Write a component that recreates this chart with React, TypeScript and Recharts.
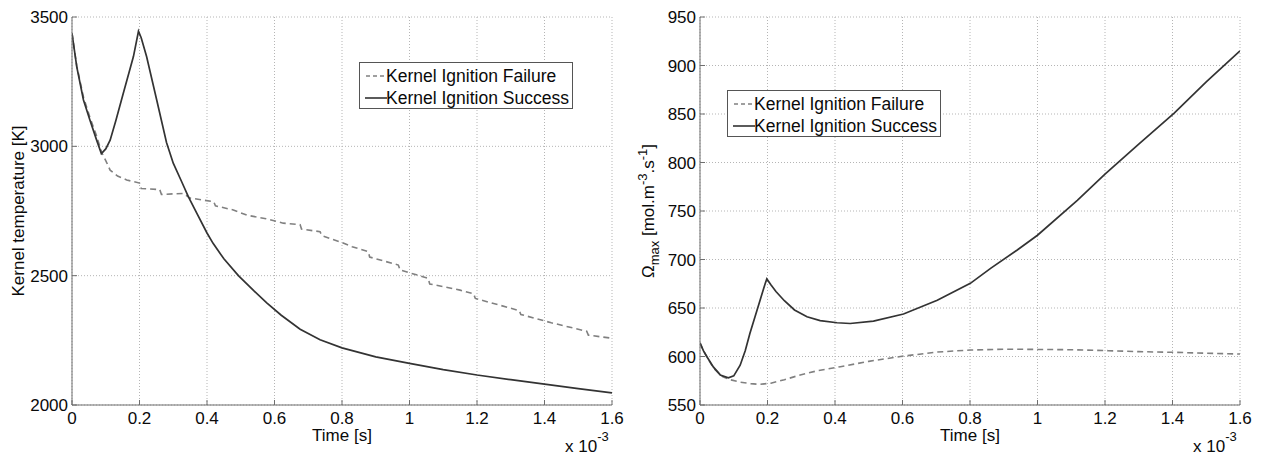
import React from 'react';
import { LineChart, Line, XAxis, YAxis, CartesianGrid } from 'recharts';

// ---- Axis ticks ----
const timeTicks = [0, 0.2, 0.4, 0.6, 0.8, 1.0, 1.2, 1.4, 1.6];
const timeTickLabels = ['0', '0.2', '0.4', '0.6', '0.8', '1', '1.2', '1.4', '1.6'];
const tempTicks = [2000, 2500, 3000, 3500];
const omegaTicks = [550, 600, 650, 700, 750, 800, 850, 900, 950];

// ---- Left panel: kernel temperature [K] vs time [x1e-3 s] ----
const tempFailureTime = [0, 0.014, 0.034, 0.053, 0.073, 0.088, 0.1, 0.113, 0.135, 0.162, 0.2, 0.205, 0.26, 0.265, 0.33, 0.35, 0.42, 0.425, 0.478, 0.518, 0.575, 0.626, 0.676, 0.68, 0.735, 0.74, 0.8, 0.83, 0.878, 0.882, 0.967, 0.972, 1.055, 1.06, 1.15, 1.19, 1.195, 1.325, 1.33, 1.42, 1.525, 1.53, 1.6];
const tempFailureValue = [3437, 3312, 3190, 3112, 3040, 2976, 2945, 2908, 2885, 2870, 2858, 2837, 2833, 2814, 2818, 2800, 2786, 2770, 2754, 2734, 2720, 2703, 2697, 2680, 2670, 2655, 2628, 2612, 2593, 2572, 2541, 2522, 2490, 2468, 2444, 2430, 2412, 2365, 2350, 2318, 2285, 2270, 2258];

const tempSuccessTime = [0, 0.014, 0.034, 0.053, 0.073, 0.087, 0.1, 0.113, 0.13, 0.152, 0.17, 0.182, 0.197, 0.205, 0.221, 0.251, 0.28, 0.3, 0.325, 0.345, 0.37, 0.4, 0.418, 0.45, 0.493, 0.54, 0.577, 0.62, 0.676, 0.735, 0.8, 0.9, 1.0, 1.1, 1.2, 1.3, 1.4, 1.5, 1.6];
const tempSuccessValue = [3437, 3308, 3179, 3102, 3024, 2972, 2990, 3024, 3100, 3205, 3290, 3347, 3445, 3420, 3347, 3179, 3015, 2935, 2863, 2805, 2741, 2665, 2625, 2565, 2500, 2440, 2395, 2347, 2293, 2252, 2221, 2186, 2161, 2137, 2116, 2098, 2081, 2063, 2047];

// ---- Right panel: Omega_max [mol.m-3.s-1] vs time ----
const omegaFailureTime = [0, 0.01, 0.02, 0.04, 0.068, 0.09, 0.12, 0.15, 0.178, 0.21, 0.25, 0.297, 0.35, 0.416, 0.5, 0.594, 0.7, 0.8, 0.9, 0.96, 1.1, 1.21, 1.3, 1.405, 1.5, 1.6];
const omegaFailureValue = [614, 606, 600, 588, 579, 576, 573.5, 572, 571.3, 572.5, 576, 581, 585.5, 589.5, 595, 600, 604.5, 606.7, 607.5, 607.4, 607, 606, 605, 604.3, 603.4, 602.5];

const omegaSuccessTime = [0, 0.01, 0.02, 0.04, 0.06, 0.084, 0.1, 0.119, 0.134, 0.148, 0.163, 0.178, 0.193, 0.198, 0.21, 0.225, 0.25, 0.28, 0.317, 0.356, 0.406, 0.445, 0.514, 0.603, 0.703, 0.801, 0.861, 0.94, 1.0, 1.118, 1.2, 1.3, 1.405, 1.5, 1.6];
const omegaSuccessValue = [614, 606, 600, 589, 581, 578, 580, 591, 606, 624, 641, 658, 675, 680, 674, 667, 657.5, 648, 641, 637, 634.8, 634, 636.5, 643.8, 658, 675.4, 690.9, 709.8, 725, 761, 788, 819, 851, 883, 915];

const legendLabels = ['Kernel Ignition Failure', 'Kernel Ignition Success'];

const zip = (t: number[], v: number[]) => t.map((x, i) => ({ t: x, v: v[i] }));

const FONT = '"Liberation Sans", Arial, Helvetica, sans-serif';
const TEXT = '#0a0a0a';
const AXIS = '#6e6e6e';
const SOLID = '#333333';
const DASHED = '#808080';

const fmtTime = (v: number) => {
  const i = timeTicks.findIndex((x) => Math.abs(x - v) < 1e-9);
  return i >= 0 ? timeTickLabels[i] : String(v);
};

const XLabel = (props: any) => {
  const vb = props.viewBox || {};
  const cx = vb.x + vb.width / 2;
  const right = vb.x + vb.width;
  return (
    <g>
      <text x={cx} y={vb.y + 36} textAnchor="middle" fontSize={17} fontFamily={FONT} fill={TEXT}>
        Time [s]
      </text>
      <text x={right - 47} y={vb.y + 47} fontSize={17} fontFamily={FONT} fill={TEXT}>
        x 10<tspan dy={-11} fontSize={13}>-3</tspan>
      </text>
    </g>
  );
};

const TempYLabel = () => (
  <text x={24} y={211} transform="rotate(-90 24 211)" textAnchor="middle" fontSize={17} fontFamily={FONT} fill={TEXT}>
    Kernel temperature [K]
  </text>
);

const OmegaYLabel = () => (
  <text x={26} y={211} transform="rotate(-90 26 211)" textAnchor="middle" fontSize={17} fontFamily={FONT} fill={TEXT}>
    Ω<tspan dy={5} fontSize={13}>max</tspan>
    <tspan dy={-5}> [mol.m</tspan>
    <tspan dy={-7} fontSize={13}>-3</tspan>
    <tspan dy={7}>.s</tspan>
    <tspan dy={-7} fontSize={13}>-1</tspan>
    <tspan dy={7}>]</tspan>
  </text>
);

type PanelProps = {
  failure: { t: number; v: number }[];
  success: { t: number; v: number }[];
  yDomain: [number, number];
  yTicks: number[];
  yLabel: React.ReactElement;
};

function Panel({ failure, success, yDomain, yTicks, yLabel }: PanelProps) {
  const tickStyle = { fontSize: 17, fill: TEXT, fontFamily: FONT };
  return (
    <LineChart width={640} height={457} margin={{ top: 17, right: 28, bottom: 22, left: 0 }}>
      <CartesianGrid stroke="#b5b5b5" strokeDasharray="1 2" />
      <XAxis
        dataKey="t"
        type="number"
        domain={[0, 1.6]}
        ticks={timeTicks}
        tickFormatter={fmtTime}
        allowDataOverflow
        height={30}
        axisLine={{ stroke: AXIS }}
        tickLine={{ stroke: AXIS }}
        tickSize={-5}
        tickMargin={12}
        tick={tickStyle}
        label={{ content: (p: any) => <XLabel {...p} /> }}
      />
      <XAxis
        xAxisId="top"
        orientation="top"
        dataKey="t"
        type="number"
        domain={[0, 1.6]}
        ticks={timeTicks}
        height={0}
        axisLine={{ stroke: AXIS }}
        tickLine={{ stroke: AXIS }}
        tickSize={-5}
        tick={false}
      />
      <YAxis
        type="number"
        domain={yDomain}
        ticks={yTicks}
        allowDataOverflow
        width={72}
        axisLine={{ stroke: AXIS }}
        tickLine={{ stroke: AXIS }}
        tickSize={-5}
        tickMargin={9}
        tick={tickStyle}
        label={{ content: () => yLabel }}
      />
      <YAxis
        yAxisId="r"
        orientation="right"
        type="number"
        domain={yDomain}
        ticks={yTicks}
        width={0}
        axisLine={{ stroke: AXIS }}
        tickLine={{ stroke: AXIS }}
        tickSize={-5}
        tick={false}
      />
      <Line
        data={failure}
        dataKey="v"
        type="linear"
        stroke={DASHED}
        strokeWidth={1.6}
        strokeDasharray="6 4"
        dot={false}
        isAnimationActive={false}
      />
      <Line
        data={success}
        dataKey="v"
        type="linear"
        stroke={SOLID}
        strokeWidth={1.7}
        dot={false}
        isAnimationActive={false}
      />
    </LineChart>
  );
}

function LegendBox({ left, top }: { left: number; top: number }) {
  const row = (i: number, y: number) => (
    <div key={i} style={{ position: 'absolute', left: 0, top: y - 11, height: 22, width: '100%' }}>
      <svg width={26} height={22} style={{ position: 'absolute', left: 4, top: 0 }}>
        {i === 0 ? (
          <line x1={2} y1={11} x2={22} y2={11} stroke={DASHED} strokeWidth={1.3} strokeDasharray="4 3" />
        ) : (
          <line x1={1} y1={11} x2={23} y2={11} stroke={SOLID} strokeWidth={1.6} />
        )}
      </svg>
      <span
        style={{
          position: 'absolute',
          left: 26,
          top: 0,
          lineHeight: '22px',
          fontSize: 17.5,
          fontFamily: FONT,
          color: TEXT,
          whiteSpace: 'nowrap',
        }}
      >
        {legendLabels[i]}
      </span>
    </div>
  );
  return (
    <div
      style={{
        position: 'absolute',
        left,
        top,
        width: 214,
        height: 47,
        boxSizing: 'border-box',
        border: '1px solid #555',
        background: '#fff',
      }}
    >
      {row(0, 13)}
      {row(1, 34.5)}
    </div>
  );
}

export default function App() {
  return (
    <div style={{ position: 'absolute', left: 0, top: 0, width: 1268, height: 457, background: '#fff', overflow: 'hidden' }}>
      <div style={{ position: 'absolute', left: 0, top: 0, width: 640, height: 457 }}>
        <Panel
          failure={zip(tempFailureTime, tempFailureValue)}
          success={zip(tempSuccessTime, tempSuccessValue)}
          yDomain={[2000, 3500]}
          yTicks={tempTicks}
          yLabel={<TempYLabel />}
        />
      </div>
      <div style={{ position: 'absolute', left: 628, top: 0, width: 640, height: 457 }}>
        <Panel
          failure={zip(omegaFailureTime, omegaFailureValue)}
          success={zip(omegaSuccessTime, omegaSuccessValue)}
          yDomain={[550, 950]}
          yTicks={omegaTicks}
          yLabel={<OmegaYLabel />}
        />
      </div>
      <LegendBox left={359} top={62} />
      <LegendBox left={727} top={90} />
    </div>
  );
}
